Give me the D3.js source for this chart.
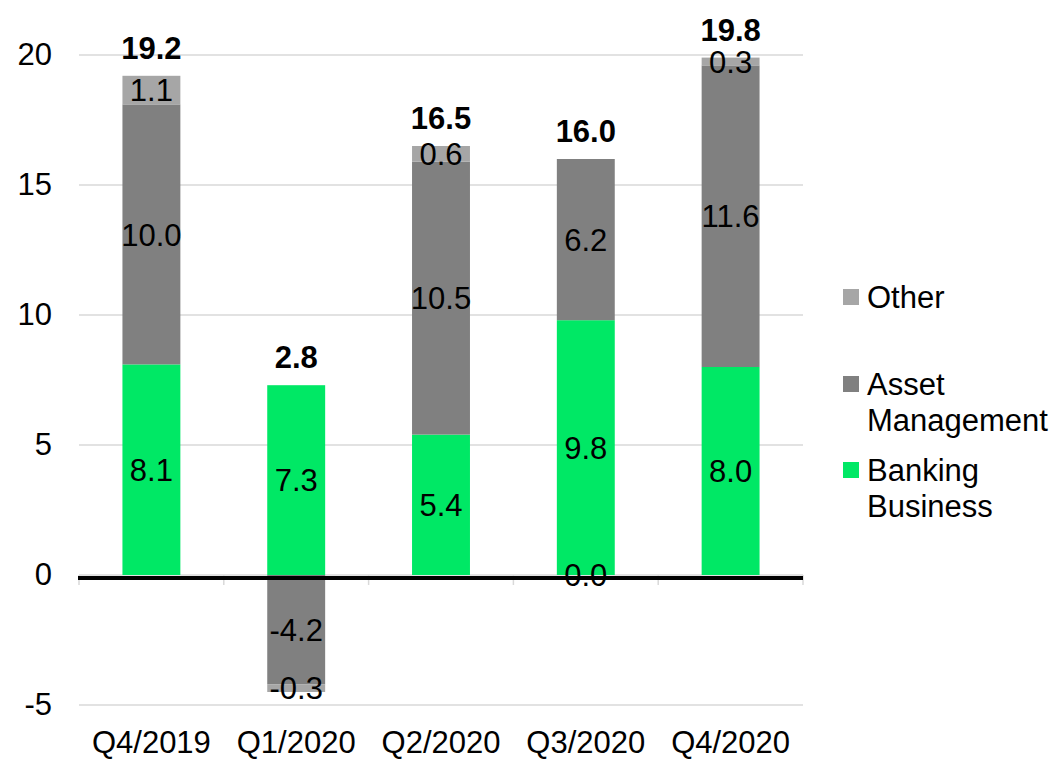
<!DOCTYPE html>
<html>
<head>
<meta charset="utf-8">
<script src="https://cdn.jsdelivr.net/npm/d3@7"></script>
<style>
    body { margin: 0; background: #ffffff; }
    text { font-family: 'Liberation Sans', Arial, sans-serif; fill: #000000; }
</style>
</head>
<body>
<svg id="chart" width="1059" height="760"></svg>
<script>
// quarterly values
var categories = ['Q4/2019', 'Q1/2020', 'Q2/2020', 'Q3/2020', 'Q4/2020'];
var banking = [8.1, 7.3, 5.4, 9.8, 8.0];
var assetMgmt = [10.0, -4.2, 10.5, 6.2, 11.6];
var other = [1.1, -0.3, 0.6, 0.0, 0.3];
var totals = [19.2, 2.8, 16.5, 16.0, 19.8];
var yTicks = [-5, 0, 5, 10, 15, 20];

var seriesKeys = ['banking', 'asset', 'other'];
var colors = { banking: '#00E865', asset: '#808080', other: '#A6A6A6' };
var FS = 31;

var svg = d3.select('#chart');

var x = d3.scaleBand()
    .domain(categories)
    .range([79, 803])
    .paddingInner(0.6)
    .paddingOuter(0.3);

var y = d3.scaleLinear()
    .domain([-5, 20])
    .range([705, 55]);

// table for d3.stack
var rows = categories.map(function (c, i) {
    return { cat: c, banking: banking[i], asset: assetMgmt[i], other: other[i], total: totals[i] };
});

var stacked = d3.stack()
    .keys(seriesKeys)
    .offset(d3.stackOffsetDiverging)(rows);

// gridlines
svg.append('g').selectAll('line')
    .data(yTicks)
    .enter().append('line')
    .attr('x1', 79).attr('x2', 803)
    .attr('y1', function (d) { return y(d); })
    .attr('y2', function (d) { return y(d); })
    .attr('stroke', '#D9D9D9')
    .attr('stroke-width', 1.5);

// y axis labels (plain hyphen for negatives)
var yAxis = d3.axisLeft(y).tickValues(yTicks).tickSize(0).tickPadding(0)
    .tickFormat(function (d) { return String(d); });
var yg = svg.append('g').attr('transform', 'translate(52,0)').call(yAxis);
yg.select('.domain').remove();
yg.selectAll('text')
    .attr('font-size', FS)
    .attr('font-family', "'Liberation Sans', Arial, sans-serif")
    .attr('fill', '#000');

// bars
var layer = svg.append('g').selectAll('g')
    .data(stacked)
    .enter().append('g')
    .attr('fill', function (s) { return colors[s.key]; });

layer.selectAll('rect')
    .data(function (s) { return s; })
    .enter().append('rect')
    .attr('x', function (d) { return x(d.data.cat); })
    .attr('width', x.bandwidth())
    .attr('y', function (d) { return y(Math.max(d[0], d[1])); })
    .attr('height', function (d) { return Math.abs(y(d[0]) - y(d[1])); });

// zero line + category ticks
var bounds = categories.map(function (c) { return x(c) - x.step() * x.paddingInner() / 2; });
bounds.push(803);
svg.append('g').selectAll('line')
    .data(bounds)
    .enter().append('line')
    .attr('x1', function (d) { return d; })
    .attr('x2', function (d) { return d; })
    .attr('y1', y(0)).attr('y2', y(0) + 10)
    .attr('stroke', '#D9D9D9')
    .attr('stroke-width', 1.5);

svg.append('line')
    .attr('x1', 78).attr('x2', 803)
    .attr('y1', y(0) + 3).attr('y2', y(0) + 3)
    .attr('stroke', '#000')
    .attr('stroke-width', 4);

// segment labels
stacked.forEach(function (s) {
    svg.append('g').selectAll('text')
        .data(s)
        .enter().append('text')
        .attr('x', function (d) { return x(d.data.cat) + x.bandwidth() / 2; })
        .attr('y', function (d) { return y((d[0] + d[1]) / 2); })
        .attr('dy', '0.36em')
        .attr('text-anchor', 'middle')
        .attr('font-size', FS)
        .text(function (d) { return d.data[s.key].toFixed(1); });
});

// totals above positive stack
var topOf = function (i) {
    var t = 0;
    stacked.forEach(function (s) { t = Math.max(t, s[i][1]); });
    return t;
};
svg.append('g').selectAll('text')
    .data(rows)
    .enter().append('text')
    .attr('x', function (d) { return x(d.cat) + x.bandwidth() / 2; })
    .attr('y', function (d, i) { return y(topOf(i)) - 17; })
    .attr('text-anchor', 'middle')
    .attr('font-size', FS)
    .attr('font-weight', 'bold')
    .text(function (d) { return d.total.toFixed(1); });

// x axis labels
svg.append('g').selectAll('text')
    .data(categories)
    .enter().append('text')
    .attr('x', function (d) { return x(d) + x.bandwidth() / 2; })
    .attr('y', 753)
    .attr('text-anchor', 'middle')
    .attr('font-size', FS)
    .text(function (d) { return d; });

// legend, top to bottom: Other, Asset Management, Banking Business
var legendItems = [
    { key: 'other', lines: ['Other'], y: 297 },
    { key: 'asset', lines: ['Asset', 'Management'], y: 384 },
    { key: 'banking', lines: ['Banking', 'Business'], y: 470 }
];
var lg = svg.append('g').selectAll('g')
    .data(legendItems)
    .enter().append('g');

lg.append('rect')
    .attr('x', 843)
    .attr('y', function (d) { return d.y - 8; })
    .attr('width', 16).attr('height', 16)
    .attr('fill', function (d) { return colors[d.key]; });

lg.each(function (d) {
    var g = d3.select(this);
    d.lines.forEach(function (ln, k) {
        g.append('text')
            .attr('x', 867)
            .attr('y', d.y + k * 36)
            .attr('dy', '0.36em')
            .attr('font-size', FS)
            .text(ln);
    });
});
</script>
</body>
</html>
